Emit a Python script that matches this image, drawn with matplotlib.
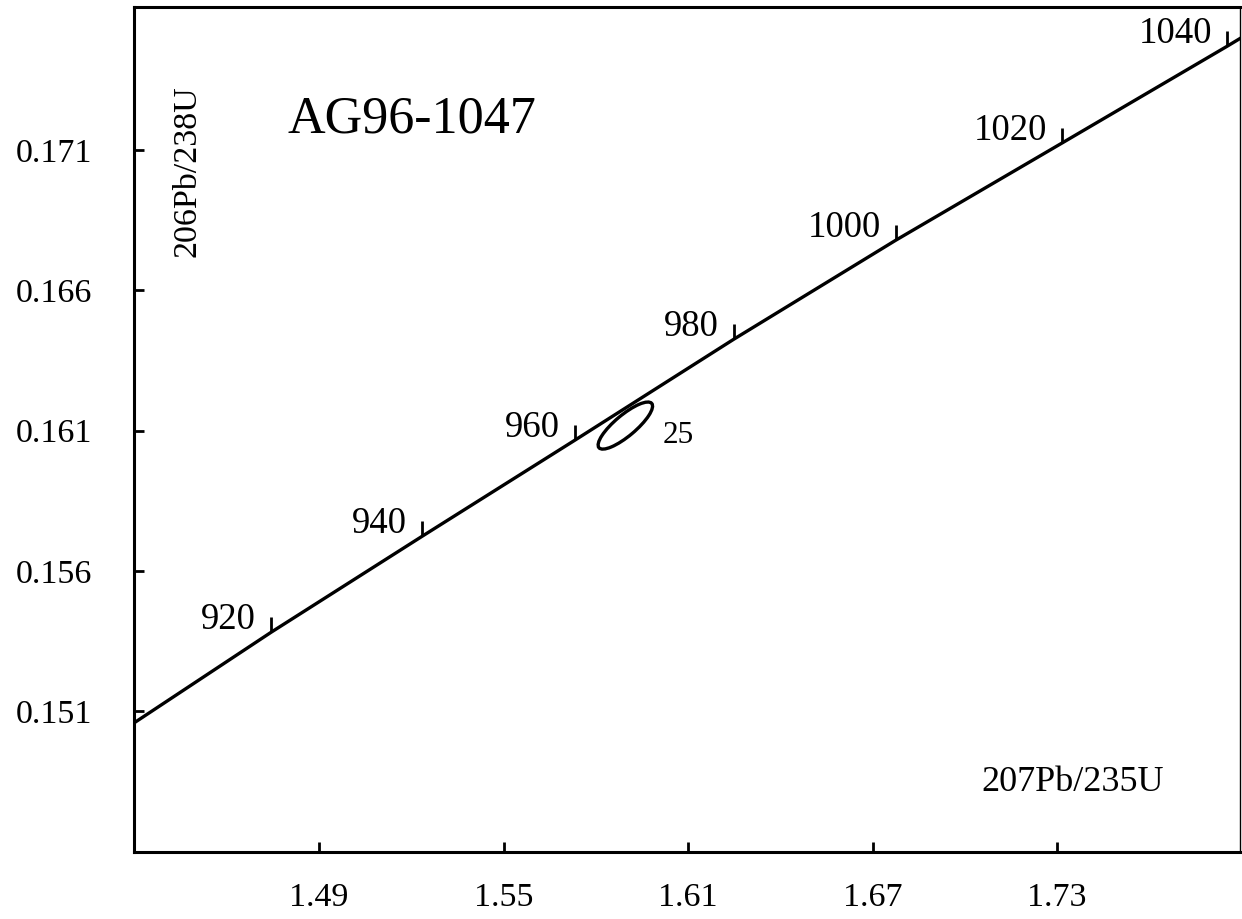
import matplotlib
matplotlib.use("Agg")
import matplotlib.pyplot as plt
from matplotlib.patches import Ellipse
from matplotlib.transforms import Affine2D

# Concordia curve (207Pb/235U, 206Pb/238U)
conc_x = [1.4200, 1.4298, 1.4745, 1.5236, 1.5732, 1.6249, 1.6776, 1.7316, 1.7853, 1.8000]
conc_y = [0.14987, 0.15058, 0.15382, 0.15724, 0.16066, 0.16426, 0.16779, 0.17125, 0.17470, 0.17567]

# Labelled age markers on the concordia (Ma)
mark_age = ["920", "940", "960", "980", "1000", "1020", "1040"]
mark_x = [1.4745, 1.5236, 1.5732, 1.6249, 1.6776, 1.7316, 1.7853]
mark_y = [0.15382, 0.15724, 0.16066, 0.16426, 0.16779, 0.17125, 0.17470]

# Analysis ellipse (spot 25)
ell_label = "25"
ell_cx = 1.5896
ell_cy = 0.16118

x_ticks = [1.49, 1.55, 1.61, 1.67, 1.73]
y_ticks = [0.151, 0.156, 0.161, 0.166, 0.171]
x_lim = (1.4298, 1.7895)
y_lim = (0.14598, 0.1761)

title = "AG96-1047"
x_label = "207Pb/235U"
y_label = "206Pb/238U"

serif = ["Liberation Serif", "DejaVu Serif"]
plt.rcParams["font.family"] = serif

fig = plt.figure(figsize=(12.42, 9.19), dpi=100)
ax = fig.add_axes([134 / 1242, 1 - 852 / 919, (1240 - 134) / 1242, (852 - 7) / 919])
ax.set_xlim(*x_lim)
ax.set_ylim(*y_lim)

ax.plot(conc_x, conc_y, color="black", lw=2.4, solid_capstyle="butt",
        solid_joinstyle="round", zorder=3)
ax.plot(mark_x, mark_y, linestyle="none", marker=2, markersize=11,
        markeredgewidth=2.0, color="black", zorder=3)
for lab, mx, my in zip(mark_age, mark_x, mark_y):
    ax.annotate(lab, (mx, my), xytext=(-11, 2.5), textcoords="offset points",
                ha="right", va="baseline", fontsize=26.5)

# ellipse drawn in a frame where x and y units have equal pixel length
s = 0.10959
ell_tr = Affine2D().scale(1, s) + ax.transData
ell = Ellipse((ell_cx, ell_cy / s), width=0.0224, height=0.0068, angle=40,
              fill=False, edgecolor="black", lw=2.4, transform=ell_tr, zorder=4)
ax.add_patch(ell)
ax.text(1.6018, 0.16056, ell_label, ha="left", va="baseline", fontsize=22.5)

ax.text(0.1392, 0.852, title, transform=ax.transAxes, ha="left", va="baseline",
        fontsize=37.5)
ax.text(0.048, 0.806, y_label, transform=ax.transAxes, ha="center", va="center",
        rotation=90, fontsize=24.5)
ax.text(0.849, 0.0817, x_label, transform=ax.transAxes, ha="center", va="center",
        fontsize=26)

ax.set_xticks(x_ticks)
ax.set_xticklabels([f"{v:.2f}" for v in x_ticks])
ax.set_yticks(y_ticks)
ax.set_yticklabels([f"{v:.3f}" for v in y_ticks])
ax.tick_params(axis="both", direction="in", length=7, width=2, labelsize=24.5,
               top=False, right=False)
ax.tick_params(axis="y", pad=30)
ax.tick_params(axis="x", pad=22)

for side in ["left", "bottom", "top"]:
    ax.spines[side].set_linewidth(2.2)
ax.spines["right"].set_linewidth(1.0)

fig.savefig("out.png", dpi=100)
